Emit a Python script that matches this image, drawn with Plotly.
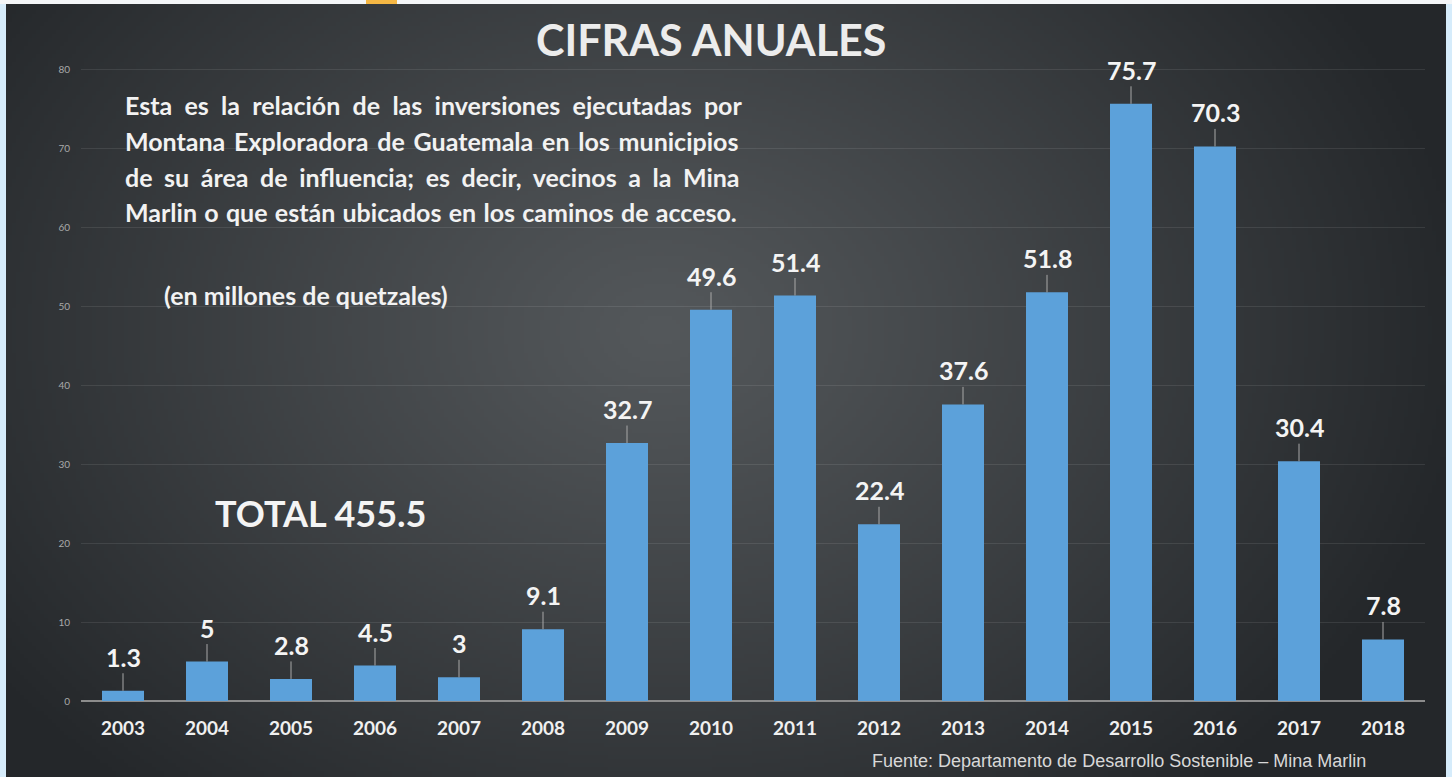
import base64, struct, zlib
import numpy as np
import plotly.graph_objects as go

# ---------------- data ----------------
years = ["2003", "2004", "2005", "2006", "2007", "2008", "2009", "2010",
         "2011", "2012", "2013", "2014", "2015", "2016", "2017", "2018"]
values = [1.3, 5, 2.8, 4.5, 3, 9.1, 32.7, 49.6, 51.4, 22.4, 37.6, 51.8,
          75.7, 70.3, 30.4, 7.8]
value_labels = ["1.3", "5", "2.8", "4.5", "3", "9.1", "32.7", "49.6", "51.4",
                "22.4", "37.6", "51.8", "75.7", "70.3", "30.4", "7.8"]
y_ticks = [0, 10, 20, 30, 40, 50, 60, 70, 80]

title_text = "CIFRAS ANUALES"
paragraph_lines = [
    "Esta es la relación de las inversiones ejecutadas por",
    "Montana Exploradora de Guatemala en los municipios",
    "de su área de influencia; es decir, vecinos a la Mina",
    "Marlin o que están ubicados en los caminos de acceso.",
]
unit_text = "(en millones de quetzales)"
total_text = "TOTAL 455.5"
source_text = "Fuente: Departamento de Desarrollo Sostenible – Mina Marlin"

# ---------------- geometry ----------------
W, H = 1452, 777
ML, MR, MT, MB = 81, 27, 62, 76
PW, PH = W - ML - MR, H - MT - MB


def px2x(px):
    return (px - ML) / PW


def py2y(py):
    return (H - MB - py) / PH


# ---------------- background gradient image ----------------
def make_png(rgb):
    h, w, _ = rgb.shape
    raw = b"".join(b"\x00" + rgb[r].tobytes() for r in range(h))

    def chunk(tag, data):
        c = tag + data
        return struct.pack(">I", len(data)) + c + struct.pack(">I", zlib.crc32(c) & 0xffffffff)

    png = b"\x89PNG\r\n\x1a\n"
    png += chunk(b"IHDR", struct.pack(">IIBBBBB", w, h, 8, 2, 0, 0, 0))
    png += chunk(b"IDAT", zlib.compress(raw, 9))
    png += chunk(b"IEND", b"")
    return "data:image/png;base64," + base64.b64encode(png).decode()


PX0, PX1, PY0, PY1 = 6, 1446, 4, 777
gw, gh = 360, 192
xs = np.linspace(PX0, PX1, gw)
ys = np.linspace(PY0, PY1, gh)
X, Y = np.meshgrid(xs, ys)
cx, cy, rx, ry = 660, 330, 820, 620
t = np.sqrt(((X - cx) / rx) ** 2 + ((Y - cy) / ry) ** 2)
t = np.clip(t, 0, 1) ** 1.1
inner = np.array([84, 88, 91], dtype=float)
outer = np.array([36, 39, 42], dtype=float)
img = (inner[None, None, :] * (1 - t[..., None]) + outer[None, None, :] * t[..., None])
img = np.clip(img, 0, 255).astype(np.uint8)
bg_src = make_png(img)

# ---------------- figure ----------------
fig = go.Figure()
fig.add_trace(go.Bar(
    x=years, y=values,
    marker=dict(color="#5ca1da", line=dict(width=0)),
    hoverinfo="x+y",
))

annotations = []
for i, (v, lab) in enumerate(zip(values, value_labels)):
    annotations.append(dict(
        x=i, y=v, xref="x", yref="y", text=lab,
        showarrow=True, arrowhead=0, arrowwidth=1, arrowcolor="#a8a8a8",
        ax=0, ay=-34, standoff=0,
        font=dict(family="Lato", size=25, color="#f4f4f4", weight=700),
    ))

# title
annotations.append(dict(
    x=px2x(711), y=py2y(40), xref="paper", yref="paper", text=title_text,
    showarrow=False, xanchor="center", yanchor="middle",
    font=dict(family="Lato", size=43, color="#ececec", weight=700),
))
# paragraph (justified look via word spacing)
line_y = [105, 141, 177, 212]
word_gap = [6.2, 2.7, 5.5, 1.2]
for txt, ly, wg in zip(paragraph_lines, line_y, word_gap):
    annotations.append(dict(
        x=px2x(123), y=py2y(ly), xref="paper", yref="paper",
        text=f'<span style="word-spacing:{wg}px">{txt}</span>',
        showarrow=False, xanchor="left", yanchor="middle",
        font=dict(family="Lato", size=25, color="#f2f2f2", weight=700),
    ))
annotations.append(dict(
    x=px2x(162), y=py2y(295), xref="paper", yref="paper", text=unit_text,
    showarrow=False, xanchor="left", yanchor="middle",
    font=dict(family="Lato", size=25, color="#f2f2f2", weight=700),
))
annotations.append(dict(
    x=px2x(213), y=py2y(513), xref="paper", yref="paper", text=total_text,
    showarrow=False, xanchor="left", yanchor="middle",
    font=dict(family="Lato", size=36, color="#f4f4f4", weight=700),
))
annotations.append(dict(
    x=px2x(1368), y=py2y(761), xref="paper", yref="paper", text=source_text,
    showarrow=False, xanchor="right", yanchor="middle",
    font=dict(family="Liberation Sans", size=18, color="#d8d8d8"),
))

shapes = [
    dict(type="rect", xref="paper", yref="paper",
         x0=px2x(0), x1=px2x(W), y0=py2y(4), y1=py2y(0),
         fillcolor="#f4f6f8", line=dict(width=0), layer="below"),
    dict(type="rect", xref="paper", yref="paper",
         x0=px2x(366), x1=px2x(397), y0=py2y(4), y1=py2y(0),
         fillcolor="#f5b744", line=dict(width=0), layer="below"),
]

fig.update_layout(
    width=W, height=H,
    margin=dict(l=ML, r=MR, t=MT, b=MB, pad=0),
    paper_bgcolor="#d6ecfb",
    plot_bgcolor="rgba(0,0,0,0)",
    showlegend=False,
    bargap=0.5,
    images=[dict(
        source=bg_src, xref="paper", yref="paper",
        x=px2x(PX0), y=py2y(PY0),
        sizex=(PX1 - PX0) / PW, sizey=(PY1 - PY0) / PH,
        xanchor="left", yanchor="top", sizing="stretch", layer="below",
    )],
    shapes=shapes,
    annotations=annotations,
    xaxis=dict(
        type="category", range=[-0.5, len(years) - 0.5],
        showgrid=False, zeroline=False, showline=False,
        ticks="", ticklabelstandoff=14,
        tickfont=dict(family="Lato", size=19, color="#f0f0f0", weight=700),
    ),
    yaxis=dict(
        range=[0, 81], tickvals=y_ticks, showgrid=True,
        gridcolor="rgba(255,255,255,0.09)", gridwidth=1,
        zeroline=True, zerolinecolor="#8c8c8c", zerolinewidth=2,
        showline=False, ticks="", ticklabelstandoff=10,
        tickfont=dict(family="Lato", size=10, color="#a9a9a9"),
    ),
)

fig.write_html("out.html")
